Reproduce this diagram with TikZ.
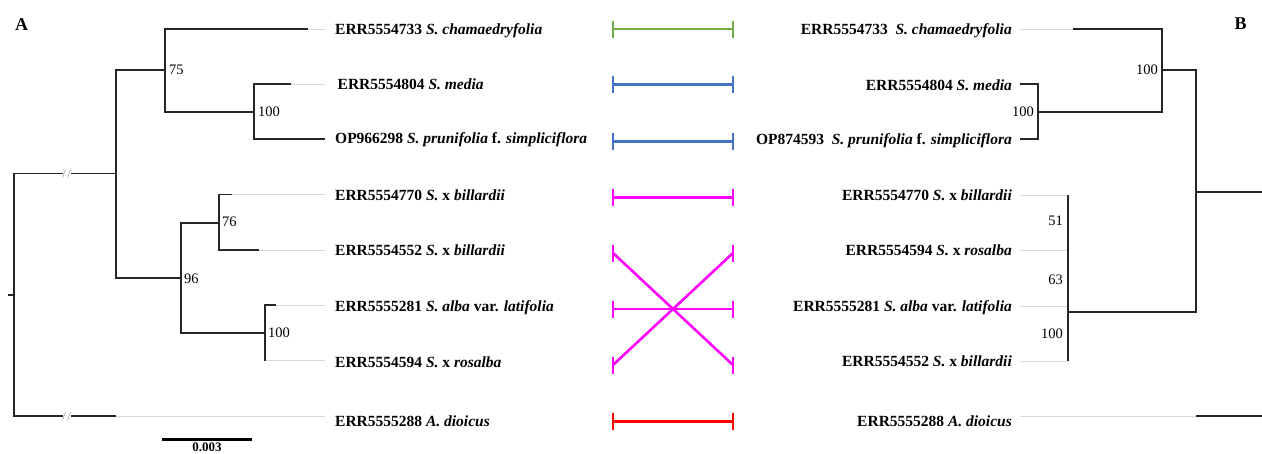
\documentclass[tikz,border=0pt]{standalone}
\usepackage{fontspec}
\setmainfont{Liberation Serif}
\begin{document}
\begin{tikzpicture}[x=1pt,y=-1pt,
  br/.style={line width=1.7pt, black!85},
  gl/.style={line width=0.6pt, black!15},
  lab/.style={font=\fontsize{15.5}{15.5}\selectfont\bfseries, inner sep=0pt},
  bs/.style={font=\fontsize{14.5}{14.5}\selectfont, inner sep=0pt},
  con/.style={line width=2.6pt, line cap=butt},
  brk/.style={line width=0.6pt, black!35},
  panel/.style={font=\fontsize{18}{18}\selectfont\bfseries, inner sep=0pt}]
\useasboundingbox (0,0) rectangle (1262,453);
\clip (0,0) rectangle (1262,453);
\definecolor{cgreen}{HTML}{70AD47}
\definecolor{cblue}{HTML}{4472C4}
\definecolor{cmag}{HTML}{FF00FF}
\definecolor{cred}{HTML}{FF0000}

% ---------- left tree (A) ----------
\coordinate (rs) at (8,294.75);
\coordinate (r)  at (14,294.75);
\coordinate (n1) at (116,173.5);
\coordinate (n2) at (165,70);
\coordinate (n3) at (254,112);
\coordinate (n4) at (181,277.7);
\coordinate (n5) at (219,222.7);
\coordinate (n6) at (265,333);
\coordinate (t1) at (308,29);
\coordinate (t2) at (291,84);
\coordinate (t3) at (325,139);
\coordinate (t4) at (232,194.5);
\coordinate (t5) at (259,250);
\coordinate (t6) at (276,305.3);
\coordinate (t7) at (265,360.5);
\coordinate (t8) at (116,416.3);
\foreach \i/\y in {1/29,2/84,3/139,4/194.5,5/250,6/305.3,7/360.5,8/416.3}
  \coordinate (g\i) at (325,\y);

\foreach \i in {1,2,4,5,6,7,8} \draw[gl] (t\i) -- (g\i);
\draw[br] (rs) -- (r);
\draw[br] (r) |- (n1);
\draw[br] (r) |- (t8);
\draw[br] (n1) |- (n2);
\draw[br] (n1) |- (n4);
\draw[br] (n2) |- (t1);
\draw[br] (n2) |- (n3);
\draw[br] (n3) |- (t2);
\draw[br] (n3) |- (t3);
\draw[br] (n4) |- (n5);
\draw[br] (n4) |- (n6);
\draw[br] (n5) |- (t4);
\draw[br] (n5) |- (t5);
\draw[br] (n6) |- (t6);
\draw[br] (n6) |- (t7);
% branch breaks
\foreach \y in {173.5,416.3}{
  \fill[white] (63,\y-2) rectangle (71,\y+2);
  \draw[brk] (62.5,\y+4) -- (65.5,\y-4);
  \draw[brk] (67.5,\y+4) -- (70.5,\y-4);
}
% bootstrap
\node[bs,anchor=west] (b75) at (169,70) {75};
\node[bs,anchor=west] (b100a) at (258,112) {100};
\node[bs,anchor=west] (b76) at (222,222) {76};
\node[bs,anchor=west] (b96) at (184,279) {96};
\node[bs,anchor=west] (b100b) at (268,333) {100};
% scale bar
\coordinate (sb1) at (162,439.5);
\coordinate (sb2) at (252,439.5);
\draw[line width=2.6pt] (sb1) -- (sb2);
\node[font=\fontsize{13}{13}\selectfont\bfseries, inner sep=0pt, anchor=north] (sbl) at (207,442.5) {0.003};
\node[panel] (pA) at (21.5,25) {A};

% ---------- left labels ----------
\node[lab,anchor=base west] (la1) at (335,34) {ERR5554733 \textit{S. chamaedryfolia}};
\node[lab,anchor=base west] (la2) at (337.5,89) {ERR5554804 \textit{S. media}};
\node[lab,anchor=base west] (la3) at (335,143.5) {OP966298 \textit{S. prunifolia} f. \textit{simpliciflora}};
\node[lab,anchor=base west] (la4) at (335,200) {ERR5554770 \textit{S.} x \textit{billardii}};
\node[lab,anchor=base west] (la5) at (335,255) {ERR5554552 \textit{S.} x \textit{billardii}};
\node[lab,anchor=base west] (la6) at (335,311) {ERR5555281 \textit{S. alba} var. \textit{latifolia}};
\node[lab,anchor=base west] (la7) at (335,367) {ERR5554594 \textit{S.} x \textit{rosalba}};
\node[lab,anchor=base west] (la8) at (335,426.7) {ERR5555288 \textit{A. dioicus}};

% ---------- connectors ----------
\foreach \i/\y in {1/29,2/84.3,3/141.5,4/197.5,5/253,6/309,7/365,8/421.5}{
  \coordinate (cl\i) at (613,\y);
  \coordinate (cr\i) at (733,\y);
}
\foreach \i/\c in {1/cgreen,2/cblue,3/cblue,4/cmag,5/cmag,6/cmag,7/cmag,8/cred}{
  \draw[con,\c] ([yshift=-8.5pt]cl\i) -- ([yshift=8.5pt]cl\i);
  \draw[con,\c] ([yshift=-8.5pt]cr\i) -- ([yshift=8.5pt]cr\i);
}
\draw[con,cgreen] (cl1) -- (cr1);
\draw[con,cblue] (cl2) -- (cr2);
\draw[con,cblue] (cl3) -- (cr3);
\draw[con,cmag] (cl4) -- (cr4);
\draw[con,cmag] (cl5) -- (cr7);
\draw[con,cmag] (cl6) -- (cr6);
\draw[con,cmag] (cl7) -- (cr5);
\draw[con,cred] (cl8) -- (cr8);

% ---------- right labels ----------
\node[lab,anchor=base east] (ra1) at (1012,34) {ERR5554733\ \ \textit{S. chamaedryfolia}};
\node[lab,anchor=base east] (ra2) at (1012,90) {ERR5554804 \textit{S. media}};
\node[lab,anchor=base east] (ra3) at (1012,144) {OP874593\ \ \textit{S. prunifolia} f. \textit{simpliciflora}};
\node[lab,anchor=base east] (ra4) at (1012,200) {ERR5554770 \textit{S.} x \textit{billardii}};
\node[lab,anchor=base east] (ra5) at (1012,255.7) {ERR5554594 \textit{S.} x \textit{rosalba}};
\node[lab,anchor=base east] (ra6) at (1012,311) {ERR5555281 \textit{S. alba} var. \textit{latifolia}};
\node[lab,anchor=base east] (ra7) at (1012,366.7) {ERR5554552 \textit{S.} x \textit{billardii}};
\node[lab,anchor=base east] (ra8) at (1012,426.7) {ERR5555288 \textit{A. dioicus}};

% ---------- right tree (B) ----------
\coordinate (q1) at (1162,70);
\coordinate (q2) at (1038,112);
\coordinate (q3) at (1196,191.7);
\coordinate (q4) at (1068,312);
\coordinate (qr) at (1262,191.7);
\coordinate (s1) at (1073,29);
\coordinate (s2) at (1020,84);
\coordinate (s3) at (1020,139);
\coordinate (s8) at (1196,416);
\coordinate (e8) at (1262,416);
\foreach \i/\y in {1/29,4/195,5/250.5,6/306,7/361,8/416}
  \coordinate (h\i) at (1020,\y);
\draw[gl] (h1) -- (s1);
\draw[gl] (h8) -- (s8);
\foreach \i in {4,5,6,7} \draw[gl] (h\i) -- (q4 |- h\i);
\draw[br] (q3) -- (qr);
\draw[br] (q3) |- (q1);
\draw[br] (q3) |- (q4);
\draw[br] (q1) |- (s1);
\draw[br] (q1) |- (q2);
\draw[br] (q2) |- (s2);
\draw[br] (q2) |- (s3);
\draw[br] (q4) -- (q4 |- h4);
\draw[br] (q4) -- (q4 |- h7);
\draw[br] (s8) -- (e8);
\node[bs,anchor=east] (c100a) at (1158,70) {100};
\node[bs,anchor=east] (c100b) at (1034,112) {100};
\node[bs,anchor=east] (c51) at (1063,221) {51};
\node[bs,anchor=east] (c63) at (1063,280) {63};
\node[bs,anchor=east] (c100c) at (1063,334) {100};
\node[panel] (pB) at (1240.5,24) {B};
\end{tikzpicture}
\end{document}
